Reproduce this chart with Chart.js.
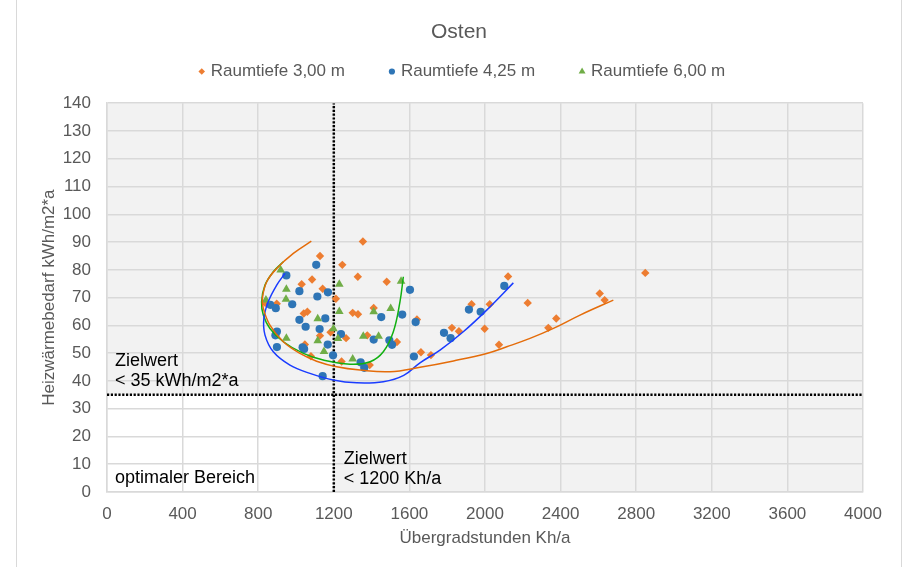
<!DOCTYPE html>
<html>
<head>
<meta charset="utf-8">
<script src="https://cdn.jsdelivr.net/npm/chart.js@4"></script>
<style>
  html, body { margin: 0; padding: 0; background: #fff; }
  #wrap { position: relative; width: 903px; height: 567px; overflow: hidden; }
  #frame { position: absolute; left: 16px; top: -2px; width: 886px; height: 590px; border: 1px solid #d9d9d9; box-sizing: border-box; }
  #chart { position: absolute; left: 0; top: 0; }
</style>
</head>
<body>
<div id="wrap">
  <div id="frame"></div>
  <canvas id="chart" width="903" height="567"></canvas>
</div>
<script>
// Raumtiefe 3,00 m  [Übergradstunden, Heizwärmebedarf]
const raum300 = [
  [1127, 85.0], [1245, 81.8], [1030, 74.8], [1085, 76.5], [1141, 73.2], [1211, 69.6],
  [837, 68.1], [898, 67.8], [1041, 64.3], [1060, 64.9], [1127, 56.3], [1183, 57.5],
  [1265, 55.4], [1300, 64.5], [1328, 64.0], [1327, 77.5], [1047, 53.1], [1079, 48.9],
  [1241, 47.0], [1354, 90.2], [1480, 75.7], [1411, 66.3], [1640, 62.1], [1377, 56.4],
  [1534, 54.0], [1661, 50.3], [1714, 49.3], [1390, 45.7], [1825, 59.1], [1862, 57.9],
  [2122, 77.6], [1929, 67.6], [2025, 67.6], [2226, 68.1], [1998, 58.8], [2377, 62.5],
  [2335, 59.1], [2074, 53.0], [2607, 71.5], [2633, 69.1], [2848, 78.9]
];
// Raumtiefe 4,25 m
const raum425 = [
  [1107, 81.8], [949, 78.0], [1018, 72.3], [1169, 71.9], [1113, 70.4], [980, 67.6],
  [864, 67.4], [893, 66.2], [1018, 62.0], [1155, 62.5], [1051, 59.5], [1125, 58.7],
  [899, 57.8], [891, 56.4], [1238, 56.9], [1168, 53.1], [899, 52.2], [1035, 52.1],
  [1043, 51.5], [1196, 49.2], [1141, 41.7], [1603, 72.8], [1562, 63.9], [1451, 63.0],
  [1633, 61.2], [1411, 54.9], [1494, 54.6], [1508, 53.0], [1342, 46.7], [1361, 44.7],
  [1624, 48.8], [1783, 57.3], [1818, 55.4], [2102, 74.2], [1915, 65.7], [1977, 64.9]
];
// Raumtiefe 6,00 m
const raum600 = [
  [919, 79.9], [949, 73.0], [947, 69.4], [841, 69.1], [1229, 74.8], [1229, 65.0],
  [1115, 62.4], [949, 55.4], [1115, 54.5], [1198, 58.8], [1222, 55.3], [1148, 50.6],
  [1300, 47.9], [1556, 75.9], [1501, 66.1], [1411, 64.9], [1356, 56.1], [1437, 56.1]
];

// trend curves
const trend300 = [
  [1081, 90.3], [986, 85.9], [898, 80.5], [845, 75.7], [822, 69.7], [827, 66.1],
  [862, 60.1], [933, 54.1], [1021, 49.9], [1109, 47.1], [1215, 45.1], [1339, 43.9],
  [1497, 43.3], [1656, 44.9], [1833, 47.2], [2009, 49.9], [2115, 52.3], [2238, 55.3],
  [2362, 58.9], [2503, 63.7], [2679, 69.1]
];
const trend425 = [
  [942, 78.7], [898, 74.5], [853, 68.5], [830, 62.5], [836, 56.5], [880, 50.5],
  [968, 45.7], [1074, 42.7], [1197, 40.3], [1321, 39.3], [1462, 39.7], [1570, 42.0],
  [1656, 46.5], [1762, 51.1], [1885, 57.7], [2009, 65.5], [2150, 75.3]
];
const trend600 = [
  [933, 82.9], [880, 79.3], [836, 74.5], [818, 68.5], [827, 63.7], [862, 58.9],
  [933, 54.1], [1039, 49.9], [1144, 47.5], [1286, 46.0], [1392, 46.9], [1462, 50.5],
  [1515, 57.7], [1550, 68.5], [1568, 77.5]
];

// Zielwerte
const zielStunden = 1200;
const zielBedarf = 35;

const seriesLabels = ["Raumtiefe 3,00 m", "Raumtiefe 4,25 m", "Raumtiefe 6,00 m"];

const toXY = (arr) => arr.map(([x, y]) => ({ x, y }));

const FONT = '"Liberation Sans", Arial, sans-serif';
const GREY = "#595959";
const GRID = "#d9d9d9";
Chart.defaults.font.family = FONT;

const drawMarker = (ctx, style, x, y, r) => {
  ctx.beginPath();
  if (style === "circle") {
    ctx.arc(x, y, r, 0, Math.PI * 2);
  } else if (style === "rectRot") {
    ctx.moveTo(x - r, y);
    ctx.lineTo(x, y - r);
    ctx.lineTo(x + r, y);
    ctx.lineTo(x, y + r);
    ctx.closePath();
  } else {
    ctx.moveTo(x, y - r);
    ctx.lineTo(x + r * 0.866, y + r * 0.5);
    ctx.lineTo(x - r * 0.866, y + r * 0.5);
    ctx.closePath();
  }
  ctx.fill();
};

const plotBackground = {
  id: "plotBackground",
  beforeDraw(chart) {
    const { ctx, chartArea: a, scales } = chart;
    ctx.save();
    ctx.fillStyle = "#f2f2f2";
    ctx.fillRect(a.left, a.top, a.right - a.left, a.bottom - a.top);
    // optimaler Bereich
    const x1 = scales.x.getPixelForValue(zielStunden);
    const y1 = scales.y.getPixelForValue(zielBedarf);
    ctx.fillStyle = "#ffffff";
    ctx.fillRect(a.left, y1, x1 - a.left, a.bottom - y1);
    ctx.restore();
  },
};

const notes = {
  id: "notes",
  afterDatasetsDraw(chart) {
    const { ctx, scales } = chart;
    const px = scales.x.getPixelForValue(zielStunden);
    const py = scales.y.getPixelForValue(zielBedarf);
    const left = scales.x.getPixelForValue(0);
    const bottom = scales.y.getPixelForValue(0);
    ctx.save();
    ctx.fillStyle = "#000";
    ctx.font = "18px " + FONT;
    ctx.textAlign = "left";
    ctx.textBaseline = "alphabetic";
    ctx.fillText("Zielwert", left + 8, py - 29);
    ctx.fillText("< 35 kWh/m2*a", left + 8, py - 9);
    ctx.fillText("optimaler Bereich", left + 8, bottom - 9);
    ctx.fillText("Zielwert", px + 10, bottom - 28);
    ctx.fillText("< 1200 Kh/a", px + 10, bottom - 8);
    ctx.restore();
  },
};

const legendRow = {
  id: "legendRow",
  afterDraw(chart) {
    const { ctx } = chart;
    const items = chart.data.datasets.filter((d) => d.inLegend);
    ctx.save();
    ctx.font = "17px " + FONT;
    const widths = items.map((d) => 12 + ctx.measureText(d.label).width);
    const gap = 44;
    const total = widths.reduce((s, w) => s + w, 0) + gap * (items.length - 1);
    const tb = chart.titleBlock;
    let x = (tb.left + tb.right) / 2 + 3 - total / 2;
    const y = 71.5;
    items.forEach((d, i) => {
      ctx.fillStyle = d.backgroundColor;
      drawMarker(ctx, d.pointStyle, x + 3, y, d.legendRadius);
      ctx.fillStyle = GREY;
      ctx.textBaseline = "middle";
      ctx.fillText(d.label, x + 12, y);
      x += widths[i] + gap;
    });
    ctx.restore();
  },
};

const dotted = {
  borderColor: "#000",
  borderWidth: 2.5,
  borderDash: [2.2, 1.6],
  pointRadius: 0,
  showLine: true,
  fill: false,
  order: 5,
};

const trendStyle = (color) => ({
  borderColor: color,
  borderWidth: 1.5,
  pointRadius: 0,
  showLine: true,
  fill: false,
  tension: 0.4,
  order: 1,
});

new Chart(document.getElementById("chart"), {
  type: "scatter",
  data: {
    datasets: [
      {
        label: seriesLabels[0],
        data: toXY(raum300),
        backgroundColor: "#ED7D31",
        borderWidth: 0,
        pointStyle: "rectRot",
        pointRadius: 4.2,
        legendRadius: 3.3,
        inLegend: true,
        order: 4,
      },
      {
        label: seriesLabels[1],
        data: toXY(raum425),
        backgroundColor: "#2E75B6",
        borderWidth: 0,
        pointStyle: "circle",
        pointRadius: 4.1,
        legendRadius: 3.1,
        inLegend: true,
        order: 3,
      },
      {
        label: seriesLabels[2],
        data: toXY(raum600),
        backgroundColor: "#70AD47",
        borderWidth: 0,
        pointStyle: "triangle",
        pointRadius: 5,
        legendRadius: 4,
        inLegend: true,
        order: 2,
      },
      { label: "trend300", data: toXY(trend300), ...trendStyle("#E46C0A") },
      { label: "trend425", data: toXY(trend425), ...trendStyle("#1A3CFF") },
      { label: "trend600", data: toXY(trend600), ...trendStyle("#12B012") },
      { label: "zielX", data: [{ x: zielStunden, y: 0 }, { x: zielStunden, y: 140 }], ...dotted },
      { label: "zielY", data: [{ x: 0, y: zielBedarf }, { x: 4000, y: zielBedarf }], ...dotted },
    ],
  },
  options: {
    responsive: false,
    animation: false,
    events: [],
    layout: { padding: { left: 15, right: 0, top: 20, bottom: 15 } },
    plugins: {
      legend: { display: false },
      tooltip: { enabled: false },
      title: {
        display: true,
        text: "Osten",
        color: GREY,
        font: { size: 21, weight: "normal" },
        padding: { top: 0, bottom: 58 },
      },
    },
    scales: {
      x: {
        type: "linear",
        position: "bottom",
        min: 0,
        max: 4000,
        ticks: {
          stepSize: 400,
          color: GREY,
          font: { size: 17 },
          padding: 12,
          maxRotation: 0,
          callback: (v) => String(v),
        },
        grid: { color: GRID, lineWidth: 1.5, drawTicks: false },
        border: { color: GRID, width: 1.5 },
        title: {
          display: true,
          text: "Übergradstunden Kh/a",
          color: GREY,
          font: { size: 17 },
          padding: { top: 0, bottom: 3 },
        },
        afterFit: (s) => { s.height = 60; },
      },
      y: {
        type: "linear",
        min: 0,
        max: 140,
        ticks: { stepSize: 10, color: GREY, font: { size: 17 }, padding: 16, callback: (v) => String(v) },
        grid: { color: GRID, lineWidth: 1.5, drawTicks: false },
        border: { color: GRID, width: 1.5 },
        title: {
          display: true,
          text: "Heizwärmebedarf kWh/m2*a",
          color: GREY,
          font: { size: 17 },
          padding: { top: 24, bottom: 0 },
        },
        afterFit: (s) => { s.width = 92; },
      },
      yRight: {
        type: "linear",
        position: "right",
        min: 0,
        max: 1,
        grid: { display: false },
        ticks: { display: false },
        border: { display: false },
        afterFit: (s) => { s.width = 40; },
      },
    },
  },
  plugins: [plotBackground, notes, legendRow],
});
</script>
</body>
</html>
